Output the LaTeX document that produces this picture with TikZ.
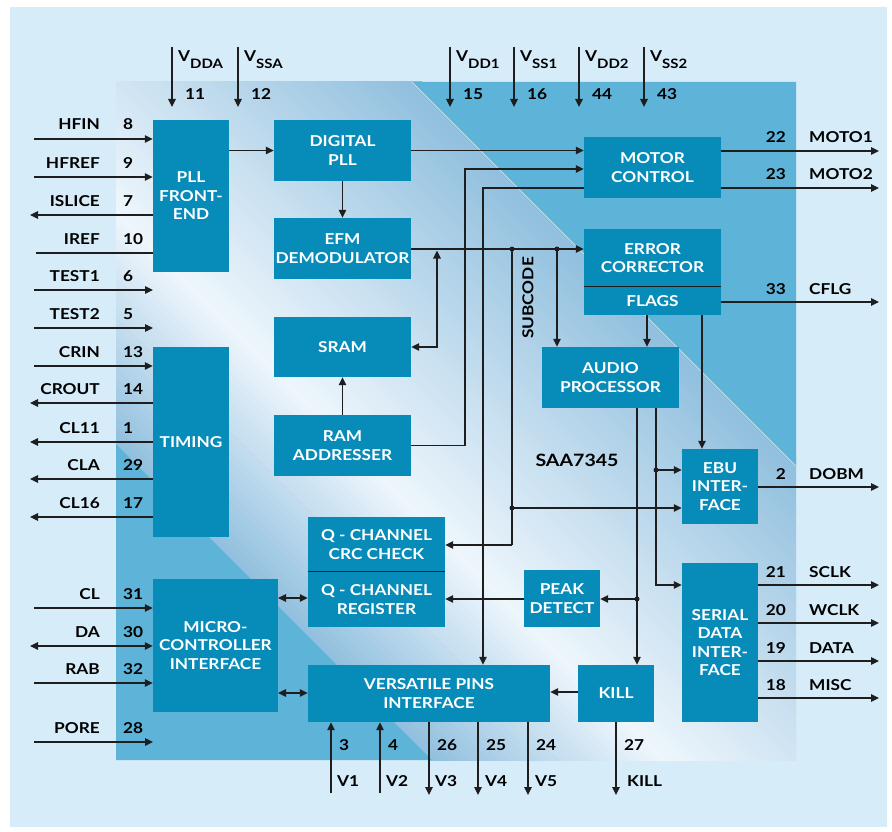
\documentclass[tikz,border=0pt]{standalone}
\usepackage{fontspec}
\setmainfont{Lato}[FakeStretch=1.15]
\usetikzlibrary{arrows.meta,calc}
\definecolor{bgblue}{HTML}{D6ECF9}
\definecolor{chipblue}{HTML}{5EB3D9}
\definecolor{bandedge}{HTML}{90BFDE}
\definecolor{ridgec}{HTML}{EEF6FC}
\definecolor{blkc}{HTML}{078BB8}
\definecolor{linec}{HTML}{1E1E1E}
\newcommand\vlbl[1]{V\raisebox{-7pt}{\fontsize{13}{13}\selectfont #1}}
\tikzset{
 block/.style={fill=blkc, text=white, font=\fontsize{15}{18.5}\selectfont\bfseries, align=center, inner sep=0pt},
 conn/.style={draw=linec, line width=1.2pt},
 arr/.style={conn, -{Triangle[length=8pt,width=7.5pt]}},
 darr/.style={conn, {Triangle[length=8pt,width=7.5pt]}-{Triangle[length=8pt,width=7.5pt]}},
 lbl/.style={font=\fontsize{15}{18}\selectfont\bfseries, text=black, inner sep=0pt},
 jdot/.style={circle, fill=linec, inner sep=0pt, minimum size=5pt},
}
\begin{document}
\begin{tikzpicture}[x=1pt,y=-1pt]
\useasboundingbox (0,0) rectangle (892,832);
\fill[white] (0,0) rectangle (892,832);
\fill[bgblue] (10,7) rectangle (887,827);
% chip body
\begin{scope}
\clip (116,82) rectangle (796,760);
\fill[chipblue] (116,82) rectangle (796,760);
\foreach \c in {-330,-320,...,330} {
  \pgfmathsetmacro\m{\c+5}
  \pgfmathsetmacro\t{\m>-95 ? (\m+95)/425 : (-95-\m)/233}
  \pgfmathtruncatemacro\p{min(100,100*\t)}
  \fill[bandedge!\p!ridgec] (\c-0.6,0) -- (\c+899.4,900) -- (\c+910.6,900) -- (\c+10.6,0) -- cycle;
}
\fill[chipblue] (412,82) -- (796,82) -- (796,466) -- cycle;
\fill[chipblue] (116,444) -- (116,760) -- (432,760) -- cycle;
\draw[white, line width=0.6pt, opacity=0.7] (412,82) -- (796,466);
\end{scope}

% blocks
\node[block, minimum width=76pt, minimum height=152pt] (pll) at (191,196) {PLL\\FRONT-\\END};
\node[block, minimum width=137pt, minimum height=61pt] (dpll) at (342.5,150.5) {DIGITAL\\PLL};
\node[block, minimum width=137pt, minimum height=61pt] (efm) at (342.5,248.5) {EFM\\DEMODULATOR};
\node[block, minimum width=137pt, minimum height=60pt] (sram) at (342.5,347) {SRAM};
\node[block, minimum width=137pt, minimum height=61pt] (ramaddr) at (342.5,445.5) {RAM\\ADDRESSER};
\node[block, minimum width=137pt, minimum height=61pt] (motor) at (652.5,167.5) {MOTOR\\CONTROL};
\node[block, minimum width=137pt, minimum height=58pt] (errc) at (652.5,258) {ERROR\\CORRECTOR};
\node[block, minimum width=137pt, minimum height=28pt] (flags) at (652.5,301) {FLAGS};
\node[block, minimum width=137pt, minimum height=61pt] (audio) at (610.5,377.5) {AUDIO\\PROCESSOR};
\node[block, minimum width=76pt, minimum height=75pt] (ebu) at (720,486.5) {EBU\\INTER-\\FACE};
\node[block, minimum width=76pt, minimum height=159pt] (serial) at (720,642.5) {SERIAL\\DATA\\INTER-\\FACE};
\node[block, minimum width=137pt, minimum height=55pt] (qcrc) at (376.5,544.5) {Q - CHANNEL\\CRC CHECK};
\node[block, minimum width=137pt, minimum height=55pt] (qreg) at (376.5,599.5) {Q - CHANNEL\\REGISTER};
\node[block, minimum width=76pt, minimum height=57pt] (peak) at (562,598.5) {PEAK\\DETECT};
\node[block, minimum width=76pt, minimum height=190pt] (timing) at (191,442) {TIMING};
\node[block, minimum width=125pt, minimum height=133pt] (micro) at (215.5,645.5) {MICRO-\\CONTROLLER\\INTERFACE};
\node[block, minimum width=242pt, minimum height=57pt] (vpi) at (429,693.5) {VERSATILE PINS\\INTERFACE};
\node[block, minimum width=76pt, minimum height=57pt] (kill) at (616,693.5) {KILL};
\draw[linec, line width=1.2pt] (flags.north west) -- (flags.north east);
\draw[linec, line width=1.2pt] (qreg.north west) -- (qreg.north east);

\node[lbl, font=\fontsize{17}{20}\selectfont\bfseries] (chipname) at (577,460) {SAA7345};
\node[lbl, rotate=90] (subcode) at (528,298) {SUBCODE};

% ---------- left pins ----------
\coordinate (p_hfin) at (34,139);   \draw[arr] (p_hfin) -- (p_hfin -| pll.west);
\coordinate (p_hfref) at (34,177);  \draw[arr] (p_hfref) -- (p_hfref -| pll.west);
\coordinate (p_islice) at (30,215); \draw[arr] (p_islice -| pll.west) -- (p_islice);
\coordinate (p_iref) at (36,253);   \draw[conn] (p_iref) -- (p_iref -| pll.west);
\coordinate (p_test1) at (34,290);  \coordinate (p_test1e) at (153,290); \draw[arr] (p_test1) -- (p_test1e);
\coordinate (p_test2) at (34,328);  \coordinate (p_test2e) at (153,328); \draw[arr] (p_test2) -- (p_test2e);
\coordinate (p_crin) at (34,366);   \draw[arr] (p_crin) -- (p_crin -| timing.west);
\coordinate (p_crout) at (30,403);  \draw[arr] (p_crout -| timing.west) -- (p_crout);
\coordinate (p_cl11) at (30,442);   \draw[arr] (p_cl11 -| timing.west) -- (p_cl11);
\coordinate (p_cla) at (30,479);    \draw[arr] (p_cla -| timing.west) -- (p_cla);
\coordinate (p_cl16) at (30,517);   \draw[arr] (p_cl16 -| timing.west) -- (p_cl16);
\coordinate (p_cl) at (34,608);     \draw[arr] (p_cl) -- (p_cl -| micro.west);
\coordinate (p_da) at (30,646);     \draw[darr] (p_da) -- (p_da -| micro.west);
\coordinate (p_rab) at (34,683);    \draw[arr] (p_rab) -- (p_rab -| micro.west);
\coordinate (p_pore) at (34,742);   \coordinate (p_poree) at (153,742); \draw[arr] (p_pore) -- (p_poree);

\foreach \nm/\y/\num in {HFIN/139/8, HFREF/177/9, ISLICE/215/7, IREF/253/10, TEST1/290/6, TEST2/328/5,
  CRIN/366/13, CROUT/403/14, CL11/442/1, CLA/479/29, CL16/517/17, CL/608/31, DA/646/30, RAB/683/32, PORE/742/28} {
  \node[lbl, anchor=base east] at (100,\y-9) {\nm};
  \node[lbl, anchor=base west] at (123,\y-9) {\num};
}

% ---------- top pins ----------
\foreach \x/\sub/\num in {172/DDA/11, 238/SSA/12, 450/DD1/15, 514/SS1/16, 579/DD2/44, 644/SS2/43} {
  \coordinate (tp\num) at (\x,47);
  \coordinate (tq\num) at (\x,107);
  \draw[arr] (tp\num) -- (tq\num);
  \node[lbl, anchor=base west] at (\x+6,62) {\vlbl{\sub}};
  \node[lbl, anchor=base west] at (\x+13,100) {\num};
}

% ---------- right pins ----------
\coordinate (r_moto1) at (879,151); \draw[arr] (r_moto1 -| motor.east) -- (r_moto1);
\coordinate (r_moto2) at (879,188); \draw[arr] (r_moto2 -| motor.east) -- (r_moto2);
\coordinate (r_cflg) at (879,302);  \draw[arr] (r_cflg -| flags.east) -- (r_cflg);
\coordinate (r_dobm) at (879,487);  \draw[arr] (r_dobm -| ebu.east) -- (r_dobm);
\coordinate (r_sclk) at (879,585);  \draw[arr] (r_sclk -| serial.east) -- (r_sclk);
\coordinate (r_wclk) at (879,623);  \draw[arr] (r_wclk -| serial.east) -- (r_wclk);
\coordinate (r_data) at (879,661);  \draw[arr] (r_data -| serial.east) -- (r_data);
\coordinate (r_misc) at (879,698);  \draw[arr] (r_misc -| serial.east) -- (r_misc);
\foreach \nm/\y/\num in {MOTO1/151/22, MOTO2/188/23, CFLG/302/33, DOBM/487/2, SCLK/585/21, WCLK/623/20, DATA/661/19, MISC/698/18} {
  \node[lbl, anchor=base east] at (786,\y-8) {\num};
  \node[lbl, anchor=base west] at (809,\y-8) {\nm};
}

% ---------- bottom pins ----------
\coordinate (b_v1) at (331,793); \draw[arr] (b_v1) -- (b_v1 |- vpi.south);
\coordinate (b_v2) at (380,793); \draw[arr] (b_v2) -- (b_v2 |- vpi.south);
\coordinate (b_v3) at (429,795); \draw[arr] (b_v3 |- vpi.south) -- (b_v3);
\coordinate (b_v4) at (478,795); \draw[arr] (b_v4 |- vpi.south) -- (b_v4);
\coordinate (b_v5) at (528,795); \draw[arr] (b_v5 |- vpi.south) -- (b_v5);
\coordinate (b_kill) at (616,795); \draw[arr] (kill.south) -- (b_kill);
\foreach \x/\nm/\num/\dx in {331/V1/3/6, 380/V2/4/6, 429/V3/26/6, 478/V4/25/7, 528/V5/24/7, 616/KILL/27/11} {
  \node[lbl, anchor=base west] at (\x+8,750) {\num};
  \node[lbl, anchor=base west] at (\x+\dx,786) {\nm};
}

% ---------- internal connections ----------
\draw[arr] (pll.east |- dpll.east) -- (dpll.west);
\draw[arr] (dpll.east) -- (dpll.east -| motor.west);
\coordinate (ra1) at (465,169);
\draw[arr] (ramaddr.east) -| (ra1) -- (ra1 -| motor.west);
\coordinate (mv1) at (483,188);
\draw[arr] (mv1 -| motor.west) -- (mv1) -- (mv1 |- vpi.north);
\draw[arr] (dpll.south) -- (efm.north);
\coordinate (e1) at (411,249);
\draw[arr] (e1) -- (e1 -| errc.west);
\node[jdot] (d1) at (512,249) {};
\node[jdot] (d2) at (557,249) {};
\coordinate (es1) at (437,250.5);
\draw[darr] (es1) |- (sram.east);
\draw[arr] (ramaddr.north) -- (sram.south);
\draw[arr] (d2.center) -- (d2.center |- audio.north);
\coordinate (f1) at (647,315);
\draw[arr] (f1) -- (f1 |- audio.north);
\coordinate (f2) at (702,315);
\draw[arr] (f2) -- (f2 |- ebu.north);
\node[jdot] (d3) at (512,508) {};
\coordinate (s1) at (512,545);
\draw[conn] (d1.center) -- (s1);
\draw[arr] (s1) -- (s1 -| qcrc.east);
\draw[arr] (d3.center) -- (d3.center -| ebu.west);
\coordinate (a1) at (637,408);
\node[jdot] (d4) at (637,599) {};
\draw[arr] (a1) -- (a1 |- kill.north);
\draw[arr] (d4.center) -- (d4.center -| peak.east);
\draw[arr] (peak.west |- d4.center) -- (d4.center -| qreg.east);
\coordinate (a2) at (656,408);
\coordinate (a3) at (656,585);
\node[jdot] (d5) at (656,470) {};
\draw[arr] (a2) -- (a3) -- (a3 -| serial.west);
\draw[arr] (d5.center) -- (d5.center -| ebu.west);
\coordinate (m1) at (278,598);
\draw[darr] (m1) -- (m1 -| qreg.west);
\coordinate (m2) at (278,693);
\draw[darr] (m2) -- (m2 -| vpi.west);
\draw[arr] (kill.west |- 0,692) -- (vpi.east |- 0,692);
\end{tikzpicture}
\end{document}
